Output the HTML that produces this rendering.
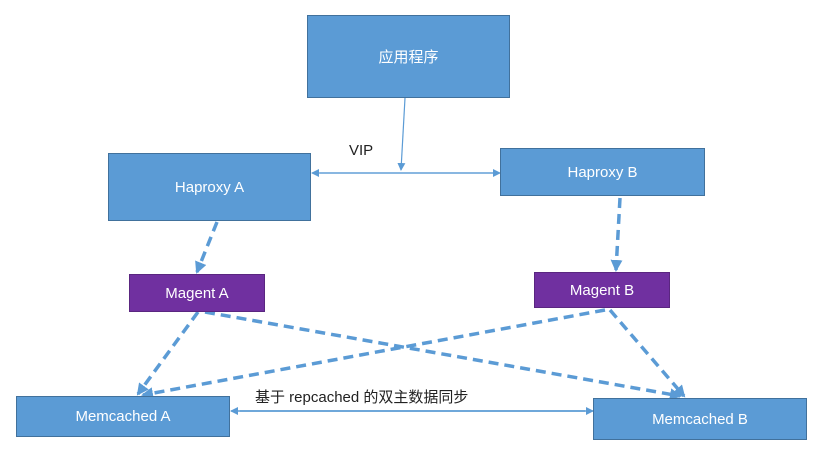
<!DOCTYPE html>
<html><head><meta charset="utf-8"><style>
body{margin:0;width:816px;height:451px;background:#fff;overflow:hidden;position:relative;font-family:"Liberation Sans","Noto Sans CJK SC",sans-serif}
.b{position:absolute;background:#5b9bd5;border:1px solid #41719c;box-sizing:border-box;color:#fff;display:flex;align-items:center;justify-content:center;font-size:15px}
.p{background:#7030a0;border-color:#5a2680}
.t{position:absolute;font-size:15px;color:#222}
</style></head><body>
<svg width="816" height="451" style="position:absolute;left:0;top:0">
<defs><marker id="a" markerWidth="8" markerHeight="8" refX="7" refY="4" orient="auto" markerUnits="userSpaceOnUse"><path d="M0,0L8,4L0,8z" fill="#5b9bd5"/></marker>
<marker id="d" markerWidth="12" markerHeight="12" refX="10" refY="6" orient="auto" markerUnits="userSpaceOnUse"><path d="M0,0L12,6L0,12z" fill="#5b9bd5"/></marker></defs>
<g stroke="#5b9bd5" fill="none">
<line x1="405" y1="98" x2="401" y2="170" stroke-width="1.2" marker-end="url(#a)"/>
<line x1="320" y1="173" x2="500" y2="173" stroke-width="1.2" marker-end="url(#a)"/>
<line x1="495" y1="173" x2="312" y2="173" stroke-width="1.2" marker-end="url(#a)"/>
<line x1="240" y1="411" x2="593" y2="411" stroke-width="1.5" marker-end="url(#a)"/>
<line x1="585" y1="411" x2="231" y2="411" stroke-width="1.5" marker-end="url(#a)"/>
<g stroke-width="3.5" stroke-dasharray="10,6">
<line x1="217" y1="222" x2="197" y2="272" marker-end="url(#d)"/>
<line x1="620" y1="198" x2="616" y2="270" marker-end="url(#d)"/>
<line x1="198" y1="312" x2="138" y2="394" marker-end="url(#d)"/>
<line x1="205" y1="312" x2="680" y2="396" marker-end="url(#d)"/>
<line x1="605" y1="310" x2="143" y2="395" marker-end="url(#d)"/>
<line x1="610" y1="310" x2="684" y2="396" marker-end="url(#d)"/>
</g></g></svg>
<div class="b" style="left:307px;top:15px;width:203px;height:83px">应用程序</div>
<div class="b" style="left:108px;top:153px;width:203px;height:68px">Haproxy A</div>
<div class="b" style="left:500px;top:148px;width:205px;height:48px">Haproxy B</div>
<div class="b p" style="left:129px;top:274px;width:136px;height:38px">Magent A</div>
<div class="b p" style="left:534px;top:272px;width:136px;height:36px">Magent B</div>
<div class="b" style="left:16px;top:396px;width:214px;height:41px">Memcached A</div>
<div class="b" style="left:593px;top:398px;width:214px;height:42px">Memcached B</div>
<div class="t" style="left:349px;top:142px">VIP</div>
<div class="t" style="left:255px;top:386px">基于 repcached 的双主数据同步</div>
</body></html>
